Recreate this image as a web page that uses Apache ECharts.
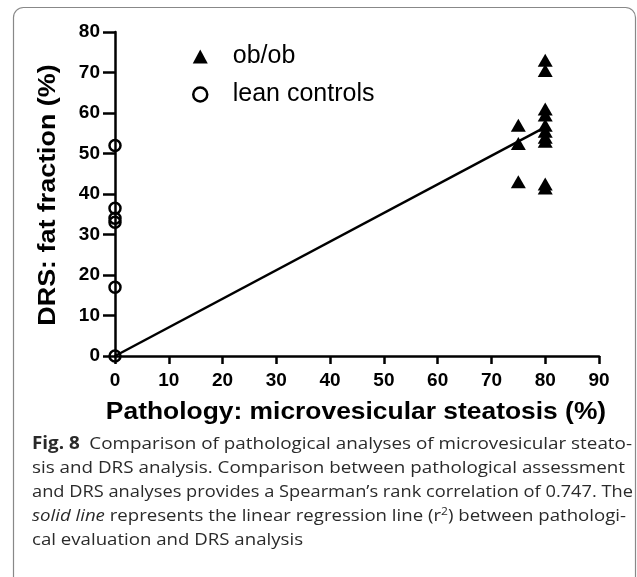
<!DOCTYPE html>
<html><head><meta charset="utf-8">
<script src="https://cdn.jsdelivr.net/npm/echarts@6/dist/echarts.min.js"></script>
<style>html,body{margin:0;padding:0;background:#fff}#c{width:637px;height:577px}</style>
</head><body><div id="c"></div>
<script>
// Data
const xTicks = [0,10,20,30,40,50,60,70,80,90];
const yTicks = [0,10,20,30,40,50,60,70,80];
const obX = [75,75,75,80,80,80,80,80,80,80,80,80,80];
const obY = [57,52.5,43,73,70.5,61,59.5,57,55.5,54,53,42.5,41.5];
const leanX = [0,0,0,0,0,0];
const leanY = [52,36.5,34,33,17,0];
const regX = [0,80];
const regY = [0,56.5];
const xTitle = 'Pathology: microvesicular steatosis (%)';
const yTitle = 'DRS: fat fraction (%)';
const captionLines = [
  '{b|Fig. 8}\u2002Comparison of pathological analyses of microvesicular steato-',
  'sis and DRS analysis. Comparison between pathological assessment',
  'and DRS analyses provides a Spearman\u2019s rank correlation of 0.747. The',
  '{i|solid line} represents the linear regression line (r{sup|2}) between pathologi-',
  'cal evaluation and DRS analysis'
];
const captionEnds = [632, 625, 633, 626, null];

const chart = echarts.init(document.getElementById('c'), null, {renderer:'canvas'});
const AX = {color:'#000', width:2.5};
const FONT = '"Liberation Sans", Arial, sans-serif';
const capFam = '"Open Sans", "Noto Sans", sans-serif';
const capSize = 17;
const capColor = '#2a2a2a';
const capRich = {
  b:{fontWeight:'bold', fontSize:capSize, fontFamily:capFam, fill:capColor},
  i:{fontStyle:'italic', fontSize:capSize, fontFamily:capFam, fill:capColor},
  sup:{fontSize:11, fontFamily:capFam, fill:capColor, verticalAlign:'top', padding:[0,0,8,0]}
};
const mctx = document.createElement('canvas').getContext('2d');
function measureRich(w){
  let total = 0; const re = /\{(\w+)\|([^}]*)\}/g; let last = 0, m;
  const seg = (txt, st) => {
    if(!txt) return;
    let f = capSize + 'px ' + capFam;
    if(st==='b') f = 'bold ' + f;
    if(st==='i') f = 'italic ' + f;
    if(st==='sup') f = '11px ' + capFam;
    mctx.font = f; total += mctx.measureText(txt).width;
  };
  while((m = re.exec(w))){ seg(w.slice(last, m.index), null); seg(m[2], m[1]); last = re.lastIndex; }
  seg(w.slice(last), null);
  return total;
}
const capLeft = 32;
const graphics = [
  {type:'rect', shape:{x:13.5,y:7.5,width:622,height:620,r:10}, style:{fill:'none', stroke:'#888', lineWidth:1.2}, z:-1},
  {type:'text', x:356, y:412, scaleX:1.1, style:{text:xTitle, font:'bold 24px ' + FONT, fill:'#000', textAlign:'center', textVerticalAlign:'middle'}},
  {type:'text', x:48, y:195, rotation:Math.PI/2, scaleX:1.12, style:{text:yTitle, font:'bold 24px ' + FONT, fill:'#000', textAlign:'center', textVerticalAlign:'middle'}}
];
const scales = captionLines.map((t,i)=> captionEnds[i] ? (captionEnds[i]-capLeft)/measureRich(t) : null);
const valid = scales.filter(s=>s);
const avgScale = valid.reduce((a,b)=>a+b,0)/valid.length;
captionLines.forEach((t,i)=>{
  graphics.push({type:'text', x:capLeft, y:444 + i*24, scaleX: scales[i] || avgScale, style:{
    text:t, fill:capColor, fontSize:capSize, fontFamily:capFam, textVerticalAlign:'middle', rich:capRich
  }});
});

chart.setOption({
  animation:false,
  backgroundColor:'#fff',
  grid:{left:115, right:38, top:32, bottom:221, containLabel:false},
  legend:{
    orient:'vertical', left:187, top:39, itemGap:13, itemWidth:15, itemHeight:14,
    textStyle:{fontSize:25, fontFamily:FONT, color:'#000', padding:[0,0,0,20]},
    data:[
      {name:'ob/ob', icon:'triangle', itemStyle:{color:'#000', borderWidth:0}},
      {name:'lean controls', icon:'circle', itemStyle:{color:'#fff', borderColor:'#000', borderWidth:2.5}}
    ]
  },
  xAxis:{type:'value', min:0, max:90, interval:10,
    axisLine:{lineStyle:AX}, axisTick:{length:8, lineStyle:AX},
    splitLine:{show:false},
    axisLabel:{color:'#000', fontSize:19, fontWeight:'bold', fontFamily:FONT, margin:15,
      formatter:v=>xTicks.includes(v)?String(v):''}
  },
  yAxis:{type:'value', min:0, max:80, interval:10,
    axisLine:{lineStyle:AX}, axisTick:{length:12, lineStyle:AX},
    splitLine:{show:false},
    axisLabel:{color:'#000', fontSize:19, fontWeight:'bold', fontFamily:FONT, margin:15,
      formatter:v=>yTicks.includes(v)?String(v):''}
  },
  series:[
    {name:'regression', type:'line', data:regX.map((x,i)=>[x,regY[i]]), symbol:'none',
      lineStyle:{color:'#000', width:2.5}, z:3},
    {name:'ob/ob', type:'scatter', data:obX.map((x,i)=>[x,obY[i]]), symbol:'triangle', symbolSize:[15,13],
      itemStyle:{color:'#000', opacity:1}, z:4},
    {name:'lean controls', type:'scatter', data:leanX.map((x,i)=>[x,leanY[i]]), symbol:'circle', symbolSize:11,
      itemStyle:{color:'rgba(255,255,255,0)', borderColor:'#000', borderWidth:2.5, opacity:1}, z:5}
  ],
  graphic:graphics
});
</script></body></html>
